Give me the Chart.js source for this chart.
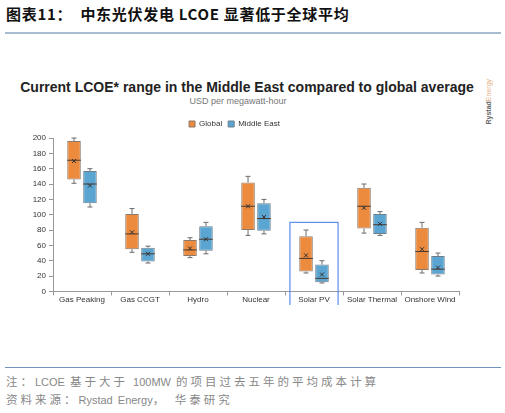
<!DOCTYPE html>
<html lang="zh">
<head>
<meta charset="UTF-8">
<title>中东光伏发电 LCOE</title>
<script src="https://cdn.jsdelivr.net/npm/chart.js"></script>
<style>
  body { margin: 0; width: 505px; height: 413px; background: #fff; position: relative; overflow: hidden; font-family: "Liberation Sans", Arial, sans-serif; }
  #head { position: absolute; left: 6px; top: 3px; font: bold 15px "Noto Sans CJK SC", sans-serif; color: #111; letter-spacing: 0.7px; }
  #headLine { position: absolute; left: 5px; top: 32px; width: 496px; height: 2px; background: #a8bdd2; }
  #title { position: absolute; left: 0; width: 494px; top: 79px; text-align: center; font: bold 14px "Liberation Sans", Arial, sans-serif; color: #222; }
  #sub { position: absolute; left: 0; width: 476px; top: 96px; text-align: center; font: 9px "Liberation Sans", Arial, sans-serif; color: #777; }
  #rystad { position: absolute; left: 463px; top: 96px; transform: rotate(-90deg); transform-origin: center; font: bold 7px "Liberation Sans", Arial, sans-serif; color: #666; width: 50px; }
  #rystad span { color: #e6b38a; font-weight: normal; }
  #wrap { position: absolute; left: 10px; top: 114px; width: 478px; height: 191px; }
  #footLine { position: absolute; left: 5px; top: 367px; width: 496px; height: 1px; background: #6f94bd; }
  .note { position: absolute; left: 6px; font: 11px "Liberation Sans", Arial, sans-serif; color: #888; white-space: nowrap; word-spacing: 2px; }
  .cn { font: 11.5px "Noto Sans CJK SC", sans-serif; letter-spacing: 3px; }
</style>
</head>
<body>
<div id="head">图表11：&nbsp; 中东光伏发电 LCOE 显著低于全球平均</div>
<div id="headLine"></div>
<div id="title">Current LCOE* range in the Middle East compared to global average</div>
<div id="sub">USD per megawatt-hour</div>
<div id="rystad">Rystad<span>Energy</span></div>
<div id="wrap"><canvas id="chart"></canvas></div>
<div id="footLine"></div>
<div class="note" style="top:373px"><span class="cn">注：</span>LCOE <span class="cn">基于大于</span> 100MW <span class="cn">的项目过去五年的平均成本计算</span></div>
<div class="note" style="top:391px"><span class="cn">资料来源：</span>Rystad Energy<span class="cn">， 华泰研究</span></div>

<script>
// 数据 (USD/MWh)
const categories = ['Gas Peaking', 'Gas CCGT', 'Hydro', 'Nuclear', 'Solar PV', 'Solar Thermal', 'Onshore Wind'];

const globalMin    = [141, 51, 44, 73, 24, 76, 24];
const globalQ1     = [146, 55, 46, 80, 26, 82, 28];
const globalMedian = [171, 75, 54, 111, 43, 111, 52];
const globalQ3     = [196, 101, 67, 142, 72, 135, 83];
const globalMax    = [200, 108, 70, 150, 80, 140, 90];
const globalMean   = [170, 77, 56, 111, 47, 109, 55];

const meMin    = [110, 37, 49, 75, 11, 73, 20];
const meQ1     = [115, 39, 53, 79, 12, 75, 22];
const meMedian = [140, 49, 68, 95, 17, 87, 29];
const meQ3     = [157, 57, 85, 115, 35, 101, 46];
const meMax    = [160, 59, 90, 120, 40, 104, 50];
const meMean   = [138, 49, 68, 97, 22, 88, 31];

const yTicks = [0, 20, 40, 60, 80, 100, 120, 140, 160, 180, 200];
const highlightIndex = 4;   // Solar PV
const highlightTop = 90;

const stats = [
  { min: globalMin, med: globalMedian, max: globalMax, mean: globalMean },
  { min: meMin, med: meMedian, max: meMax, mean: meMean }
];

// whiskers, median, mean, highlight
const boxExtras = {
  id: 'boxExtras',
  afterDatasetsDraw(chart) {
    const ctx = chart.ctx, y = chart.scales.y, x = chart.scales.x;
    ctx.save();
    stats.forEach((s, di) => {
      const meta = chart.getDatasetMeta(di);
      meta.data.forEach((bar, i) => {
        const cx = bar.x, hw = bar.width / 2;
        const top = y.getPixelForValue(chart.data.datasets[di].data[i][1]);
        const bot = y.getPixelForValue(chart.data.datasets[di].data[i][0]);
        const yMax = y.getPixelForValue(s.max[i]);
        const yMin = y.getPixelForValue(s.min[i]);
        ctx.strokeStyle = '#6b6b6b';
        ctx.lineWidth = 1;
        ctx.beginPath();
        ctx.moveTo(cx, top); ctx.lineTo(cx, yMax);
        ctx.moveTo(cx - 2.5, yMax); ctx.lineTo(cx + 2.5, yMax);
        ctx.moveTo(cx, bot); ctx.lineTo(cx, yMin);
        ctx.moveTo(cx - 2.5, yMin); ctx.lineTo(cx + 2.5, yMin);
        ctx.stroke();
        // median
        const ym = y.getPixelForValue(s.med[i]);
        ctx.strokeStyle = '#4a3a30';
        ctx.beginPath();
        ctx.moveTo(cx - hw, ym); ctx.lineTo(cx + hw, ym);
        ctx.stroke();
        // mean x
        const ya = y.getPixelForValue(s.mean[i]);
        ctx.strokeStyle = '#333';
        ctx.beginPath();
        ctx.moveTo(cx - 2, ya - 2); ctx.lineTo(cx + 2, ya + 2);
        ctx.moveTo(cx + 2, ya - 2); ctx.lineTo(cx - 2, ya + 2);
        ctx.stroke();
      });
    });
    // Solar PV highlight
    const cw = (x.right - x.left) / categories.length;
    const hx = x.getPixelForValue(highlightIndex);
    const left = hx - cw * 0.415, right = hx + cw * 0.415;
    const top = y.getPixelForValue(highlightTop);
    const bottom = chart.chartArea.bottom + 20;
    ctx.strokeStyle = '#5b8def';
    ctx.lineWidth = 1.2;
    ctx.strokeRect(left, top, right - left, bottom - top);
    ctx.restore();
  }
};

const ctx = document.getElementById('chart').getContext('2d');
new Chart(ctx, {
  type: 'bar',
  data: {
    labels: categories,
    datasets: [
      {
        label: 'Global',
        data: globalQ1.map((v, i) => [v, globalQ3[i]]),
        backgroundColor: '#ec8a3e',
        borderColor: '#8c7a6c',
        borderWidth: 1,
        borderSkipped: false,
        categoryPercentage: 0.55,
        barPercentage: 0.85
      },
      {
        label: 'Middle East',
        data: meQ1.map((v, i) => [v, meQ3[i]]),
        backgroundColor: '#5aa5d2',
        borderColor: '#6f7f8a',
        borderWidth: 1,
        borderSkipped: false,
        categoryPercentage: 0.55,
        barPercentage: 0.85
      }
    ]
  },
  options: {
    responsive: true,
    maintainAspectRatio: false,
    animation: false,
    layout: { padding: { right: 29, bottom: 0, top: 0 } },
    plugins: {
      legend: {
        position: 'top',
        labels: {
          boxWidth: 6, boxHeight: 6, padding: 6,
          font: { size: 8, family: 'Liberation Sans' },
          color: '#333'
        }
      },
      tooltip: { enabled: false }
    },
    scales: {
      x: {
        grid: { display: true, drawOnChartArea: false, tickLength: 4, color: '#999', offset: true },
        border: { color: '#999' },
        ticks: { font: { size: 8, family: 'Liberation Sans' }, color: '#333', padding: 0 }
      },
      y: {
        min: 0, max: 200,
        afterBuildTicks(scale) { scale.ticks = yTicks.map(v => ({ value: v })); },
        afterFit(scale) { scale.width = 43; },
        grid: { display: true, drawOnChartArea: false, tickLength: 4, color: '#999' },
        border: { color: '#999' },
        ticks: { font: { size: 8, family: 'Liberation Sans' }, color: '#333', padding: 3 }
      }
    }
  },
  plugins: [boxExtras]
});
</script>
</body>
</html>
